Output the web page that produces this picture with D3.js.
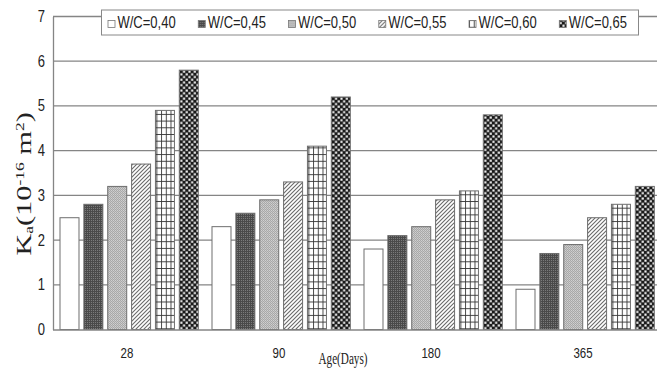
<!DOCTYPE html>
<html>
<head>
<meta charset="utf-8">
<script src="https://cdn.jsdelivr.net/npm/d3@7"></script>
<style>
  html, body { margin: 0; padding: 0; background: #fff; }
  svg { display: block; }
</style>
</head>
<body>
<svg id="chart" width="657" height="370"></svg>
<script>
// ---- data ----
const categories = ["28", "90", "180", "365"];
const seriesNames = ["W/C=0,40", "W/C=0,45", "W/C=0,50", "W/C=0,55", "W/C=0,60", "W/C=0,65"];
const wc040 = [2.5, 2.3, 1.8, 0.9];
const wc045 = [2.8, 2.6, 2.1, 1.7];
const wc050 = [3.2, 2.9, 2.3, 1.9];
const wc055 = [3.7, 3.3, 2.9, 2.5];
const wc060 = [4.9, 4.1, 3.1, 2.8];
const wc065 = [5.8, 5.2, 4.8, 3.2];
const yTicks = [0, 1, 2, 3, 4, 5, 6, 7];
const xTitle = "Age(Days)";

const seriesValues = [wc040, wc045, wc050, wc055, wc060, wc065];
const patternIds = ["p0", "p1", "p2", "p3", "p4", "p5"];

const svg = d3.select("#chart");
const plotLeft = 53, plotRight = 661, plotTop = 16.5, plotBottom = 329.5;

const x0 = d3.scaleBand().domain(categories).range([plotLeft, plotRight]).paddingInner(0).paddingOuter(0);
const x1 = d3.scaleBand().domain(seriesNames).range([7, 145.3]).paddingInner(0.204).paddingOuter(0);
const y = d3.scaleLinear().domain([0, 7]).range([plotBottom, plotTop]);

// ---- patterns ----
const defs = svg.append("defs");
defs.append("pattern").attr("id", "p0").attr("patternUnits", "userSpaceOnUse")
  .attr("width", 4).attr("height", 4)
  .append("rect").attr("width", 4).attr("height", 4).attr("fill", "#fff");
{
  const p = defs.append("pattern").attr("id", "p1").attr("patternUnits", "userSpaceOnUse")
    .attr("width", 2).attr("height", 2);
  p.append("rect").attr("width", 2).attr("height", 2).attr("fill", "#4a4a4a");
  p.append("rect").attr("width", 1).attr("height", 1).attr("fill", "#7a7a7a");
}
{
  const p = defs.append("pattern").attr("id", "p2").attr("patternUnits", "userSpaceOnUse")
    .attr("width", 2).attr("height", 2);
  p.append("rect").attr("width", 2).attr("height", 2).attr("fill", "#a8a8a8");
  p.append("rect").attr("width", 1).attr("height", 1).attr("fill", "#d0d0d0");
  p.append("rect").attr("x", 1).attr("y", 1).attr("width", 1).attr("height", 1).attr("fill", "#c4c4c4");
}
{
  const p = defs.append("pattern").attr("id", "p3").attr("patternUnits", "userSpaceOnUse")
    .attr("width", 4).attr("height", 4);
  p.append("rect").attr("width", 4).attr("height", 4).attr("fill", "#fff");
  p.append("path").attr("d", "M-1,1 L1,-1 M0,4 L4,0 M3,5 L5,3")
    .attr("stroke", "#6a6a6a").attr("stroke-width", 1.1);
}
{
  const p = defs.append("pattern").attr("id", "p4").attr("patternUnits", "userSpaceOnUse")
    .attr("width", 4.7).attr("height", 6.7);
  p.append("rect").attr("width", 4.7).attr("height", 6.7).attr("fill", "#fff");
  p.append("path").attr("d", "M0.5,0 V6.7 M0,0.5 H4.7")
    .attr("stroke", "#333").attr("stroke-width", 0.9);
}
{
  const p = defs.append("pattern").attr("id", "p5").attr("patternUnits", "userSpaceOnUse")
    .attr("width", 5.4).attr("height", 5.4);
  p.append("rect").attr("width", 5.4).attr("height", 5.4).attr("fill", "#1a1a1a");
  p.append("rect").attr("x", 0.4).attr("y", 0.4).attr("width", 2.1).attr("height", 2.1).attr("fill", "#fff");
  p.append("rect").attr("x", 3.1).attr("y", 3.1).attr("width", 2.1).attr("height", 2.1).attr("fill", "#fff");
}

// ---- gridlines ----
svg.append("g").selectAll("line").data(yTicks.filter(d => d > 0)).join("line")
  .attr("x1", plotLeft).attr("x2", 657)
  .attr("y1", d => y(d)).attr("y2", d => y(d))
  .attr("stroke", "#858585").attr("stroke-width", 1.3);

// ---- bars ----
const groups = svg.append("g").selectAll("g").data(categories).join("g")
  .attr("transform", d => `translate(${x0(d)},0)`);
groups.selectAll("rect")
  .data((c, ci) => seriesNames.map((s, si) => ({ s, si, v: seriesValues[si][ci] })))
  .join("rect")
  .attr("x", d => x1(d.s))
  .attr("width", x1.bandwidth())
  .attr("y", d => y(d.v))
  .attr("height", d => y(0) - y(d.v))
  .attr("fill", d => `url(#${patternIds[d.si]})`)
  .attr("stroke", "#6e6e6e").attr("stroke-width", 1);

// ---- axes ----
const yAxis = svg.append("g").attr("transform", `translate(${plotLeft},0)`)
  .call(d3.axisLeft(y).tickValues(yTicks).tickFormat(d3.format("d")).tickSize(0).tickPadding(8));
yAxis.select(".domain").attr("stroke", "#858585").attr("stroke-width", 1.3);
yAxis.selectAll("text")
  .attr("font-family", "Liberation Sans, Arial, sans-serif")
  .attr("font-size", 13).attr("fill", "#222")
  .attr("transform", "scale(1,1.2)");

const xAxis = svg.append("g").attr("transform", `translate(0,${plotBottom})`)
  .call(d3.axisBottom(x0).tickSize(0).tickPadding(0));
xAxis.select(".domain").attr("stroke", "#858585").attr("stroke-width", 1.6)
  .attr("d", `M${plotLeft},0.5H657`);
xAxis.selectAll("text")
  .attr("y", 0).attr("dy", 0)
  .attr("font-family", "Liberation Sans, Arial, sans-serif")
  .attr("font-size", 11.5).attr("fill", "#222")
  .attr("transform", "translate(-2,28.5) scale(1,1.2)");

// ---- axis titles ----
svg.append("text")
  .attr("transform", "translate(343,364) scale(0.7,1)")
  .attr("text-anchor", "middle")
  .attr("font-family", "Liberation Serif, Times New Roman, serif")
  .attr("font-size", 16).attr("fill", "#222")
  .text(xTitle);

const yt = svg.append("text")
  .attr("transform", "translate(31,184) rotate(-90) scale(1.45,1)")
  .attr("text-anchor", "middle")
  .attr("font-family", "Liberation Serif, Times New Roman, serif")
  .attr("font-size", 21).attr("fill", "#222");
yt.append("tspan").text("K");
yt.append("tspan").attr("font-size", 12).attr("dy", 2).text("a");
yt.append("tspan").attr("dy", -2).text("(10");
yt.append("tspan").attr("font-size", 12).attr("dy", -7).text("-16");
yt.append("tspan").attr("dy", 7).text(" m");
yt.append("tspan").attr("font-size", 12).attr("dy", -7).text("2");
yt.append("tspan").attr("dy", 7).text(")");

// ---- legend ----
const lg = svg.append("g");
lg.append("rect").attr("x", 101.5).attr("y", 10).attr("width", 537).attr("height", 25)
  .attr("fill", "#fff").attr("stroke", "#888").attr("stroke-width", 1);
const lx = d3.scalePoint().domain(seriesNames).range([108, 559.3]);
const items = lg.selectAll("g").data(seriesNames).join("g")
  .attr("transform", d => `translate(${lx(d)},0)`);
items.append("rect").attr("x", 0).attr("y", 20.5).attr("width", 7).attr("height", 7)
  .attr("fill", (d, i) => `url(#${patternIds[i]})`)
  .attr("stroke", "#777").attr("stroke-width", 0.8);
items.append("text")
  .attr("transform", "translate(9.5,28.3) scale(1,1.2)")
  .attr("font-family", "Liberation Sans, Arial, sans-serif")
  .attr("font-size", 13).attr("fill", "#222")
  .text(d => d);
</script>
</body>
</html>
